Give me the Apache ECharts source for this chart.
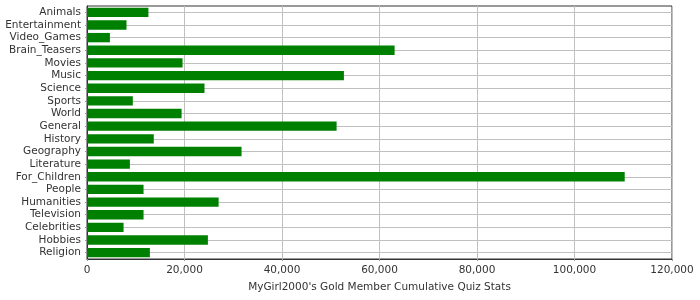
<!DOCTYPE html>
<html>
<head>
<meta charset="utf-8">
<script src="https://cdn.jsdelivr.net/npm/echarts@6/dist/echarts.min.js"></script>
<style>html,body{margin:0;padding:0;background:#fff}#c{width:700px;height:300px}</style>
</head>
<body>
<div id="c"></div>
<script>
const categories = ["Animals","Entertainment","Video_Games","Brain_Teasers","Movies","Music","Science","Sports","World","General","History","Geography","Literature","For_Children","People","Humanities","Television","Celebrities","Hobbies","Religion"];
const values = [12600,8100,4700,63100,19600,52700,24100,9400,19400,51200,13700,31700,8800,110300,11600,27000,11600,7500,24800,12900];
const xTicks = {min:0, max:120000, interval:20000};
const xTitle = "MyGirl2000's Gold Member Cumulative Quiz Stats";

const font = "DejaVu Sans";
const chart = echarts.init(document.getElementById('c'));
chart.setOption({
  animation:false,
  grid:{left:87,right:28,top:6,bottom:41,show:true,borderColor:'#333',borderWidth:1,backgroundColor:'transparent'},
  xAxis:{type:'value',min:xTicks.min,max:xTicks.max,interval:xTicks.interval,
    name:xTitle,nameLocation:'middle',nameGap:23,
    nameTextStyle:{fontFamily:font,fontSize:10.5,color:'#333'},
    axisLine:{show:true,lineStyle:{color:'#333'}},
    axisTick:{show:true,length:2,lineStyle:{color:'#999'}},
    axisLabel:{fontFamily:font,fontSize:10.5,color:'#333',margin:6,
      formatter:v=>v.toLocaleString('en-US')},
    splitLine:{show:true,lineStyle:{color:'#c0c0c0'}}},
  yAxis:{type:'category',data:categories,inverse:true,
    axisLine:{show:true,lineStyle:{color:'#333'}},
    axisTick:{show:true,length:2,interval:0,alignWithLabel:true,lineStyle:{color:'#999'}},
    axisLabel:{fontFamily:font,fontSize:10.5,color:'#333',margin:6,interval:0},
    splitLine:{show:false}},
  series:[{type:'bar',data:values,barCategoryGap:'26%',z:3,itemStyle:{color:'#008000'},
    markLine:{silent:true,symbol:['none','none'],z:1,label:{show:false},
      lineStyle:{color:'#c0c0c0',width:1,type:'solid'},
      emphasis:{disabled:true},
      data:categories.map(c=>({yAxis:c}))}}]
});
</script>
</body>
</html>
